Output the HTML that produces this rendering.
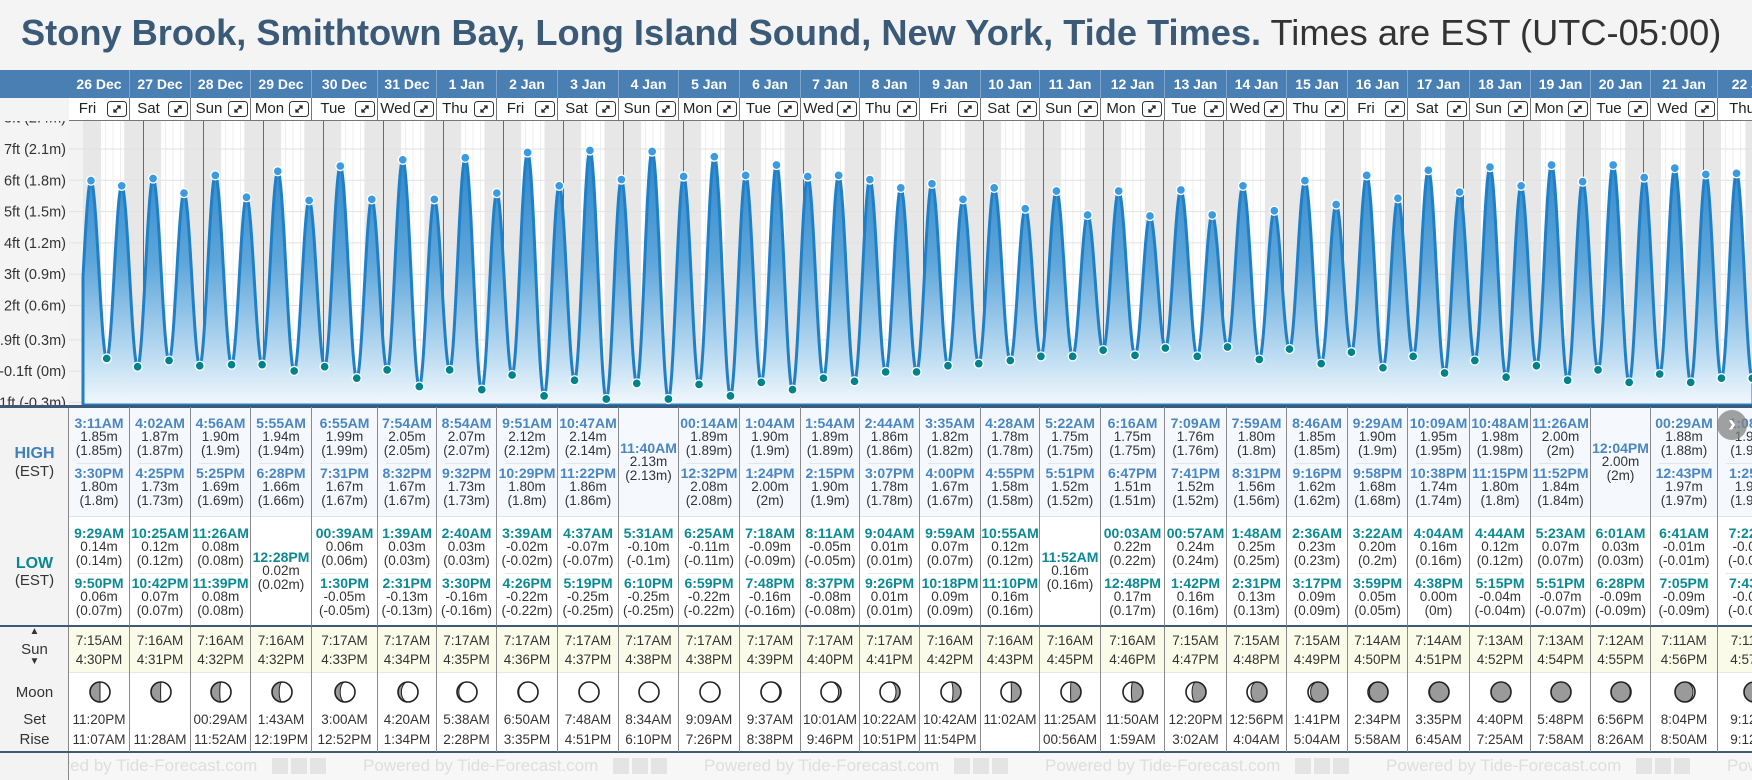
<!DOCTYPE html>
<html><head><meta charset="utf-8">
<style>
html,body{margin:0;padding:0;width:1752px;height:780px;overflow:hidden;background:#f4f4f4;font-family:"Liberation Sans",Arial,sans-serif;}
#title{position:absolute;left:21px;top:12px;white-space:nowrap;font-size:36px;line-height:42px;transform-origin:0 0;color:#333;}
#title b{color:#3a5a78;}
.abs{position:absolute;}
.hdr{position:absolute;top:70px;height:28px;background:#4a7fb4;color:#fff;font-weight:bold;font-size:14px;line-height:28px;text-align:center;border-right:1px solid #7fa3c9;box-sizing:border-box;}
.dow{position:absolute;top:98px;height:23px;background:#fff;border-right:1px solid #777;border-bottom:1px solid #777;box-sizing:border-box;font-size:15px;color:#222;}
.cell{position:absolute;box-sizing:border-box;border-right:1px solid #8a8a8a;text-align:center;font-size:13.5px;color:#333;}
.t{position:absolute;left:0;right:0;font-weight:bold;font-size:14px;}
.v{position:absolute;left:0;right:0;}
.lbl{position:absolute;left:0;width:69px;text-align:center;font-size:15px;color:#333;}
.foot{position:absolute;top:757px;font-size:17px;color:#dedede;white-space:nowrap;}
</style></head>
<body>
<div id="title"><b>Stony Brook, Smithtown Bay, Long Island Sound, New York, Tide Times.</b> Times are EST (UTC-05:00)</div>

<svg id="chart" class="abs" style="left:0;top:0" width="1752" height="410">
<defs>
<linearGradient id="g" gradientUnits="userSpaceOnUse" x1="0" y1="145" x2="0" y2="405">
<stop offset="0" stop-color="#2b85cb"/><stop offset="0.45" stop-color="#5ea6da"/><stop offset="0.8" stop-color="#b9daf1"/><stop offset="1" stop-color="#f2f8fd"/>
</linearGradient>
<clipPath id="plotclip"><rect x="0" y="121" width="1752" height="290"/></clipPath>
</defs>
<g id="bg"></g><g id="grid"></g><g id="ylab" clip-path="url(#plotclip)"></g><g id="area"></g><g id="dots"></g>
</svg>

<div id="table"></div>

<script>
const dates=["26 Dec","27 Dec","28 Dec","29 Dec","30 Dec","31 Dec","1 Jan","2 Jan","3 Jan","4 Jan","5 Jan","6 Jan","7 Jan","8 Jan","9 Jan","10 Jan","11 Jan","12 Jan","13 Jan","14 Jan","15 Jan","16 Jan","17 Jan","18 Jan","19 Jan","20 Jan","21 Jan","22 Jan"];
const dows=["Fri","Sat","Sun","Mon","Tue","Wed","Thu","Fri","Sat","Sun","Mon","Tue","Wed","Thu","Fri","Sat","Sun","Mon","Tue","Wed","Thu","Fri","Sat","Sun","Mon","Tue","Wed","Thu"];
const highs=[
[["3:11AM",1.85,1.85],["3:30PM",1.80,1.8]],
[["4:02AM",1.87,1.87],["4:25PM",1.73,1.73]],
[["4:56AM",1.90,1.9],["5:25PM",1.69,1.69]],
[["5:55AM",1.94,1.94],["6:28PM",1.66,1.66]],
[["6:55AM",1.99,1.99],["7:31PM",1.67,1.67]],
[["7:54AM",2.05,2.05],["8:32PM",1.67,1.67]],
[["8:54AM",2.07,2.07],["9:32PM",1.73,1.73]],
[["9:51AM",2.12,2.12],["10:29PM",1.80,1.8]],
[["10:47AM",2.14,2.14],["11:22PM",1.86,1.86]],
[["11:40AM",2.13,2.13]],
[["00:14AM",1.89,1.89],["12:32PM",2.08,2.08]],
[["1:04AM",1.90,1.9],["1:24PM",2.00,2]],
[["1:54AM",1.89,1.89],["2:15PM",1.90,1.9]],
[["2:44AM",1.86,1.86],["3:07PM",1.78,1.78]],
[["3:35AM",1.82,1.82],["4:00PM",1.67,1.67]],
[["4:28AM",1.78,1.78],["4:55PM",1.58,1.58]],
[["5:22AM",1.75,1.75],["5:51PM",1.52,1.52]],
[["6:16AM",1.75,1.75],["6:47PM",1.51,1.51]],
[["7:09AM",1.76,1.76],["7:41PM",1.52,1.52]],
[["7:59AM",1.80,1.8],["8:31PM",1.56,1.56]],
[["8:46AM",1.85,1.85],["9:16PM",1.62,1.62]],
[["9:29AM",1.90,1.9],["9:58PM",1.68,1.68]],
[["10:09AM",1.95,1.95],["10:38PM",1.74,1.74]],
[["10:48AM",1.98,1.98],["11:15PM",1.80,1.8]],
[["11:26AM",2.00,2],["11:52PM",1.84,1.84]],
[["12:04PM",2.00,2]],
[["00:29AM",1.88,1.88],["12:43PM",1.97,1.97]],
[["1:08AM",1.91,1.91],["1:25PM",1.92,1.92]]];
const lows=[
[["9:29AM",0.14,0.14],["9:50PM",0.06,0.07]],
[["10:25AM",0.12,0.12],["10:42PM",0.07,0.07]],
[["11:26AM",0.08,0.08],["11:39PM",0.08,0.08]],
[["12:28PM",0.02,0.02]],
[["00:39AM",0.06,0.06],["1:30PM",-0.05,-0.05]],
[["1:39AM",0.03,0.03],["2:31PM",-0.13,-0.13]],
[["2:40AM",0.03,0.03],["3:30PM",-0.16,-0.16]],
[["3:39AM",-0.02,-0.02],["4:26PM",-0.22,-0.22]],
[["4:37AM",-0.07,-0.07],["5:19PM",-0.25,-0.25]],
[["5:31AM",-0.10,-0.1],["6:10PM",-0.25,-0.25]],
[["6:25AM",-0.11,-0.11],["6:59PM",-0.22,-0.22]],
[["7:18AM",-0.09,-0.09],["7:48PM",-0.16,-0.16]],
[["8:11AM",-0.05,-0.05],["8:37PM",-0.08,-0.08]],
[["9:04AM",0.01,0.01],["9:26PM",0.01,0.01]],
[["9:59AM",0.07,0.07],["10:18PM",0.09,0.09]],
[["10:55AM",0.12,0.12],["11:10PM",0.16,0.16]],
[["11:52AM",0.16,0.16]],
[["00:03AM",0.22,0.22],["12:48PM",0.17,0.17]],
[["00:57AM",0.24,0.24],["1:42PM",0.16,0.16]],
[["1:48AM",0.25,0.25],["2:31PM",0.13,0.13]],
[["2:36AM",0.23,0.23],["3:17PM",0.09,0.09]],
[["3:22AM",0.20,0.2],["3:59PM",0.05,0.05]],
[["4:04AM",0.16,0.16],["4:38PM",0.00,0]],
[["4:44AM",0.12,0.12],["5:15PM",-0.04,-0.04]],
[["5:23AM",0.07,0.07],["5:51PM",-0.07,-0.07]],
[["6:01AM",0.03,0.03],["6:28PM",-0.09,-0.09]],
[["6:41AM",-0.01,-0.01],["7:05PM",-0.09,-0.09]],
[["7:22AM",-0.05,-0.05],["7:43PM",-0.05,-0.05]]];
const sunrise=["7:15AM","7:16AM","7:16AM","7:16AM","7:17AM","7:17AM","7:17AM","7:17AM","7:17AM","7:17AM","7:17AM","7:17AM","7:17AM","7:17AM","7:16AM","7:16AM","7:16AM","7:16AM","7:15AM","7:15AM","7:15AM","7:14AM","7:14AM","7:13AM","7:13AM","7:12AM","7:11AM","7:11AM"];
const sunset=["4:30PM","4:31PM","4:32PM","4:32PM","4:33PM","4:34PM","4:35PM","4:36PM","4:37PM","4:38PM","4:38PM","4:39PM","4:40PM","4:41PM","4:42PM","4:43PM","4:45PM","4:46PM","4:47PM","4:48PM","4:49PM","4:50PM","4:51PM","4:52PM","4:54PM","4:55PM","4:56PM","4:57PM"];
const moonSet=["11:20PM","","00:29AM","1:43AM","3:00AM","4:20AM","5:38AM","6:50AM","7:48AM","8:34AM","9:09AM","9:37AM","10:01AM","10:22AM","10:42AM","11:02AM","11:25AM","11:50AM","12:20PM","12:56PM","1:41PM","2:34PM","3:35PM","4:40PM","5:48PM","6:56PM","8:04PM","9:12PM"];
const moonRise=["11:07AM","11:28AM","11:52AM","12:19PM","12:52PM","1:34PM","2:28PM","3:35PM","4:51PM","6:10PM","7:26PM","8:38PM","9:46PM","10:51PM","11:54PM","","00:56AM","1:59AM","3:02AM","4:04AM","5:04AM","5:58AM","6:45AM","7:25AM","7:58AM","8:26AM","8:50AM","9:12AM"];
const moonDark=[0.5,0.48,0.44,0.36,0.26,0.17,0.09,0.04,0.01,0,-0.02,-0.06,-0.12,-0.2,-0.4,-0.48,-0.52,-0.58,-0.7,-0.8,-0.87,-0.93,-0.97,-1,-1,0.96,0.9,0.85];
const yTicksFt=[8,7,6,5,4,3,2,0.9,-0.1,-1.1];
const yTicksM=["2.4m","2.1m","1.8m","1.5m","1.2m","0.9m","0.6m","0.3m","0m","-0.3m"];

const colEdges=[69,130,191,251,312,378,437,497,558,619,679,740,801,860,920,981,1040,1101,1165,1227,1287,1348,1408,1470,1531,1591,1651,1718,1790];
const X0=83, PXH=2.5;
function hrs(s){const m=s.match(/(\d+):(\d+)(AM|PM)/);let h=(+m[1])%12;if(m[3]==="PM")h+=12;return h+(+m[2])/60;}
function xOf(day,h){return X0+(day*24+h)*PXH;}
function yM(m){return 373-104*m;}
function yFt(ft){return 149+(7-ft)*31.3;}
const NS="http://www.w3.org/2000/svg";
function S(tag,attrs,parent){const e=document.createElementNS(NS,tag);for(const k in attrs)e.setAttribute(k,attrs[k]);parent.appendChild(e);return e;}

const bg=document.getElementById('bg');
let r=S('rect',{x:69,y:121,width:1683,height:284,fill:'#f3f3f3'},bg);


for(let d=0;d<dates.length;d++){
  const x1=xOf(d,0), x2=xOf(d,hrs(sunrise[d])), x3=xOf(d,hrs(sunset[d])), x4=xOf(d+1,0);
  let n1=S('rect',{x:x1,y:121,width:x2-x1,height:284,fill:'#e7e7e7'},bg);
  
  
  let dy=S('rect',{x:x2,y:121,width:x3-x2,height:284,fill:'#ffffff'},bg);
  
  
  let n2=S('rect',{x:x3,y:121,width:x4-x3,height:284,fill:'#e7e7e7'},bg);
  
  
  for(const hh of [9,12,15]){S('line',{x1:xOf(d,hh),x2:xOf(d,hh),y1:121,y2:405,stroke:'#efefef','stroke-width':1},bg);}
}
const grid=document.getElementById('grid'), ylab=document.getElementById('ylab');
yTicksFt.forEach((ft,i)=>{
  const y=yFt(ft);
  S('line',{x1:69,x2:1752,y1:y,y2:y,stroke:'#e2e2e2','stroke-width':1},grid);
  const t=S('text',{x:66,y:y+5,'text-anchor':'end','font-size':14.5,fill:'#333','font-family':'Liberation Sans, sans-serif'},ylab);
  t.textContent=(ft+"ft ("+yTicksM[i]+")");
  
  
});
for(let d=1;d<=dates.length;d++){
  const x=Math.round(xOf(d,0))+0.5;
  let l=S('line',{x1:x,x2:x,y1:121,y2:405,stroke:'#5f6b77','stroke-width':1},grid);
  
  
}
const pts=[];
pts.push({t:-24+21.1,m:0.12,type:'x'});
highs.forEach((arr,d)=>arr.forEach(e=>pts.push({t:d*24+hrs(e[0]),m:e[1],type:'H'})));
lows.forEach((arr,d)=>arr.forEach(e=>pts.push({t:d*24+hrs(e[0]),m:e[1],type:'L'})));
pts.push({t:28*24+2.0,m:1.9,type:'x'});
pts.sort((a,b)=>a.t-b.t);
function valAt(t){
  for(let i=0;i<pts.length-1;i++){
    if(t>=pts[i].t&&t<=pts[i+1].t){const f=(t-pts[i].t)/(pts[i+1].t-pts[i].t);const c=(1-Math.cos(Math.PI*f))/2;return pts[i].m+(pts[i+1].m-pts[i].m)*c;}
  }
  return pts[pts.length-1].m;
}
let dpath="M"+X0+",405";
for(let x=X0;x<=1753;x+=0.5){const t=(x-X0)/PXH;dpath+=" L"+x+","+yM(valAt(t)).toFixed(2);}
dpath+=" L1753,405 Z";
const area=document.getElementById('area');
let ap=S('path',{d:dpath,fill:'url(#g)',stroke:'#1f80c8','stroke-width':3,'stroke-linejoin':'round'},area);


const dots=document.getElementById('dots');
pts.forEach(p=>{
  if(p.type==='x')return;
  let c=S('circle',{cx:xOf(0,p.t),cy:yM(p.m),r:4.5,fill:p.type==='H'?'#3a9be0':'#00838b',stroke:'#fff','stroke-width':1.3},dots);
  
  
});

const title=document.getElementById('title');
const tw=title.scrollWidth;title.style.transform='scaleX('+(1700/tw)+')';

const tb=document.getElementById('table');
function D(cls,style,parent,text){const e=document.createElement('div');if(cls)e.className=cls;e.setAttribute('style',style);if(text!==undefined)e.textContent=text;(parent||tb).appendChild(e);return e;}
let hb=D('abs','left:0;top:70px;width:69px;height:28px;background:#4a7fb4;');


let lc=D('abs','left:0;top:407px;width:69px;height:373px;background:#f3f3f3;border-right:1px solid #888;box-sizing:border-box;');


let hr=D('abs','left:69px;top:407px;width:1683px;height:109px;background:#f5f9fe;');


let lr=D('abs','left:69px;top:516px;width:1683px;height:110px;background:#fff;border-top:1px solid #dde3ea;box-sizing:border-box;');


let sr=D('abs','left:69px;top:626px;width:1683px;height:46px;background:#fbfbea;');


let mr=D('abs','left:69px;top:672px;width:1683px;height:80px;background:#fff;border-top:1px solid #e8e8e8;box-sizing:border-box;');


let fr=D('abs','left:69px;top:752px;width:1683px;height:28px;background:#f7f7f7;overflow:hidden;');


[22,363,704,1045,1386,1727].forEach(x=>{
  const f=D('foot','left:'+(x-69)+'px;top:4px;',fr,'Powered by Tide-Forecast.com');
  
  
  const lg=D('abs','left:'+(x-69+250)+'px;top:6px;width:56px;height:16px;',fr);
  lg.innerHTML='<span style="display:inline-block;width:16px;height:16px;background:#e4e4e4;margin-right:3px"></span><span style="display:inline-block;width:16px;height:16px;background:#e4e4e4;margin-right:3px"></span><span style="display:inline-block;width:16px;height:16px;background:#e4e4e4"></span>';
  
  
});
[[405,2.5,'#3d5b78'],[625,2,'#3d5b78'],[751,1.5,'#3d5b78']].forEach(s=>{
  const e=D('abs','left:0;top:'+s[0]+'px;width:1752px;height:'+s[1]+'px;background:'+s[2]+';');
  
  
});
let L1=D('lbl','top:445px;font-weight:bold;color:#3f7fc0;font-size:16px;',tb,'HIGH');


let L2=D('lbl','top:463px;',tb,'(EST)');


let L3=D('lbl','top:555px;font-weight:bold;color:#0b8790;font-size:16px;',tb,'LOW');


let L4=D('lbl','top:572px;',tb,'(EST)');


let L5=D('lbl','top:627px;font-size:10px;line-height:10px;',tb,'▲');


let L6=D('lbl','top:641px;',tb,'Sun');


let L7=D('lbl','top:657px;font-size:10px;line-height:10px;',tb,'▼');


let L8=D('lbl','top:684px;',tb,'Moon');


let L9=D('lbl','top:711px;',tb,'Set');


let L10=D('lbl','top:731px;',tb,'Rise');



function entry(parent,e,top,cls){
  const a=D('t',(cls==='H'?'color:#4a86c2;':'color:#0b8a93;')+'top:'+(top-8)+'px;',parent,e[0]);
  
  
  const b=D('v','top:'+(top+6)+'px;',parent,e[1].toFixed(2)+'m');
  
  
  const c=D('v','top:'+(top+20)+'px;',parent,'('+String(e[2])+'m)');
  
  
}
function moonSVG(f){
  const r=10;let side=f>=0?1:-1;let a=Math.abs(f);let body='';
  if(a>=0.999){body='<circle cx="0" cy="0" r="'+r+'" fill="#9a9a9a"/>';}
  else if(a>0.001){const rx=(r*Math.abs(1-2*a)).toFixed(2);const sw=a<=0.5?1:0;
    body='<path transform="scale('+(-side)+',1)" d="M0,'+(-r)+' A'+r+','+r+' 0 0 1 0,'+r+' A'+rx+','+r+' 0 0 '+(1-sw)+' 0,'+(-r)+' Z" fill="#9a9a9a" stroke="#222" stroke-width="1"/>';}
  return '<svg width="26" height="26" viewBox="-13 -13 26 26"><circle cx="0" cy="0" r="'+r+'" fill="#fff"/>'+body+'<circle cx="0" cy="0" r="'+r+'" fill="none" stroke="#222" stroke-width="1.6"/></svg>';
}
const expandSVG='<svg width="20" height="16" viewBox="0 0 20 16"><rect x="0.5" y="0.5" width="19" height="15" rx="3" fill="#fff" stroke="#333"/><path d="M7 11 L13 5 M10 5 H13 V8 M7 8 V11 H10" stroke="#222" stroke-width="1.3" fill="none"/></svg>';

for(let i=0;i<dates.length;i++){
  const L=colEdges[i],W=colEdges[i+1]-L;
  const h=D('hdr','left:'+L+'px;width:'+W+'px;',tb,dates[i]);
  
  
  const dw=D('dow','left:'+L+'px;width:'+W+'px;',tb);
  
  
  const dt=D('abs','left:0;width:'+(W-24)+'px;top:2px;text-align:center;',dw,dows[i]);
  
  
  const ex=D('abs','left:'+(W-23)+'px;top:3px;width:20px;height:16px;',dw);
  ex.innerHTML=expandSVG;
  
  
  const hc=D('cell','left:'+L+'px;top:407px;width:'+W+'px;height:109px;',tb);
  
  
  if(highs[i].length===2){entry(hc,highs[i][0],16,'H');entry(hc,highs[i][1],66,'H');
    const sp=D('abs','left:8px;right:8px;top:56px;height:1px;background:#e2e6ea;',hc);
    
    
  } else entry(hc,highs[i][0],41,'H');
  const lc2=D('cell','left:'+L+'px;top:516px;width:'+W+'px;height:110px;',tb);
  
  
  if(lows[i].length===2){entry(lc2,lows[i][0],17,'L');entry(lc2,lows[i][1],67,'L');
    const sp=D('abs','left:8px;right:8px;top:57px;height:1px;background:#e6e6e6;',lc2);
    
    
  } else entry(lc2,lows[i][0],41,'L');
  const sc=D('cell','left:'+L+'px;top:627px;width:'+W+'px;height:45px;',tb);
  
  
  const s1=D('v','top:6px;',sc,sunrise[i]);
  
  
  const s2=D('v','top:25px;',sc,sunset[i]);
  
  
  const mc=D('cell','left:'+L+'px;top:672px;width:'+W+'px;height:80px;',tb);
  
  
  const mi=D('abs','left:'+(W/2-13)+'px;top:7px;width:26px;height:26px;',mc);
  mi.innerHTML=moonSVG(moonDark[i]);
  
  
  const m1=D('v','top:40px;',mc,moonSet[i]);
  
  
  const m2=D('v','top:60px;',mc,moonRise[i]);
  
  
}
const nx=D('abs','left:1717px;top:410px;width:30px;height:30px;border-radius:15px;background:rgba(130,130,130,0.75);color:#fff;font-size:24px;line-height:28px;text-align:center;font-weight:bold;',tb,'›');


</script>
</body></html>
